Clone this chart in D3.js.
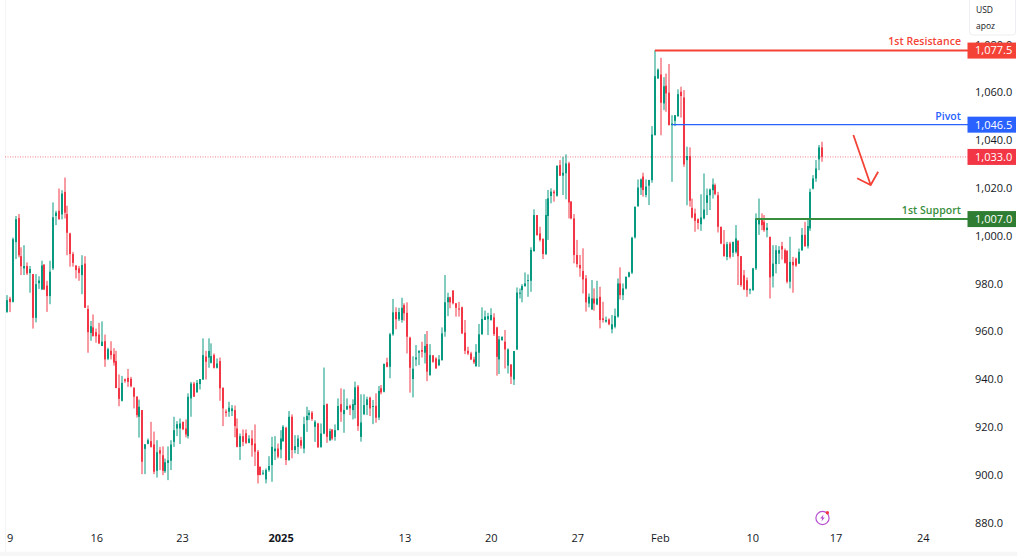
<![CDATA[<!DOCTYPE html>
<html><head><meta charset="utf-8">
<script src="https://cdn.jsdelivr.net/npm/d3@7/dist/d3.min.js"></script>
<style>html,body{margin:0;padding:0;background:#fff}svg{display:block}
text{font-family:"Open Sans","Noto Sans",sans-serif}</style></head><body>
<svg id="c" width="1017" height="556"></svg>
<script>
const opens=[967.8,973.3,972,997,1007,991.1,986,987,984,983.6,965.3,979.8,977.2,987.5,978.8,974.4,986,1007.9,1010.1,1008.6,1018,1008.7,1000.6,992,987.2,986,983.2,988,969,959,961.3,959.3,958.3,953.5,955.5,948.2,951.5,950.1,947.2,935.9,930.6,939.6,940.2,939.8,935.9,932.3,923.9,926.7,910.5,912.6,913.7,912.3,901.3,909.9,907.8,901.1,904.6,
905.5,913.4,919,919,921.8,919,915.8,931.6,937.8,934.1,937.6,939.5,949.1,948.7,946.5,949.7,944.4,947.2,936,926.1,926,926.3,926.7,919,911.3,915.8,917,913,914.8,912.7,909.3,903,900.2,897.7,901.6,903.7,909.5,910.6,910.2,913.7,919.3,905.8,923.9,910,911.3,914.1,910.6,922.5,924.6,925.6,919.7,921.1,911.3,916.9,929.2,914.1,918.6,915.5,918.3,
929.2,925,927,928.5,926.7,928.8,936.5,915.5,925,928.8,931.9,928,928.5,923.6,935.8,934.4,946.7,
944.8,958.4,967.7,964.7,964.4,970.6,967.4,957,939.7,947.9,950.7,951.8,950.7,954.3,941.4,949.6,948.3,945.5,947.6,959.5,971.8,973.9,976.7,971.4,969.2,969.7,959.1,951.5,950.4,947.9,945.1,950.7,958.5,964.4,964.7,964.4,965.5,961.3,947.9,956,955.3,945.3,945.8,939.5,952.1,
975.5,976.9,978.6,980.8,980.8,993.2,1008.3,1000.6,998.3,992,1007.9,1016.3,1018.1,1016.4,1029.2,1024.8,1025.8,1029.9,1013.9,1006.9,991.6,987.4,984.9,981.8,971.3,968.8,973.4,970.9,974.1,965.1,963.7,964.6,960.5,961.6,965.8,979.7,974.8,977.6,982.5,984.2,999,1012,1019.8,1024.4,1016.7,1020.6,1022.9,
1041.7,1065.5,1067.1,1055,1062.4,1059.5,1045.9,1047.7,1049.7,1059.9,1057.5,1031.3,1033,1011.3,1009,1006.6,1004.5,1006.9,1013.4,1016.6,1018.7,1020.8,1016.6,1003.4,996.1,990.8,996.4,992.5,992.9,997.5,991.1,983.1,981,976.9,976.9,986,1004.4,1006.2,1005.5,1002,999.2,982.7,987.8,992.2,995.3,993.6,993.3,980.4,988.7,990.1,988,993.6,1000,995.3,1002.7,1019.4,1023.6,1031.6,1036.6];
const highs=[974.8,974.1,998.9,1007.9,1008.7,994.8,995.7,988.5,987,983.6,983.6,982.7,989.2,987.8,980.8,989.2,1013.6,1010.1,1019.4,1018.7,1024,1012.2,1000.9,992.9,987.2,987,991.5,991.1,970.5,964,966.7,960.8,963.2,963.8,958.3,952.8,955.5,952.6,951.5,941.6,941,939.9,943.9,940.6,936.4,932.5,931.1,926.7,912.4,914.8,921.8,917.7,914.1,911.3,911.5,906.4,911.5,
914.1,923.9,922.1,923.2,921.8,922.8,933.7,938.5,938.5,939.3,939.7,956.7,951.5,956.7,954.6,950.4,948.3,948.7,936.2,927,930.2,928.8,928.6,923.2,916.9,918.6,918.6,916.2,918.3,920.7,910,903,901.6,902.3,907.4,915.5,915.8,912.7,918.3,920.4,919.7,926.3,924.9,916.2,916.2,915.5,923.9,928.1,926.7,926.3,922.5,921.4,921.1,944.5,929.5,919,918.7,920.7,931.6,
935.8,935.4,931.6,929,931.2,938.6,937.2,933.3,933.3,932.3,932.3,930.9,933.7,936.8,937.2,946.2,948.6,
959,973.2,969.7,969.5,973.7,971.4,971.8,957.4,949.2,953.9,951.8,955.3,958.5,959.8,954.3,949.7,948.8,949.7,961.3,983.2,975.8,974.1,976.9,971.4,972,970,964.4,953.2,951.1,949,954.3,962.7,969.7,968.3,967.4,969.3,967.2,961.6,957.7,957.4,960.2,952.5,945.8,951.4,978,
977.6,979.4,984.3,983.5,994.8,1010.7,1008.3,1003.4,998.6,1015,1018.8,1019.5,1018.8,1029.2,1031.3,1032.7,1033.7,1030.6,1014.2,1008.7,997.9,991.6,994.4,983.2,975.5,981.1,977.6,980.8,978.3,972,965.8,965.1,966.5,969.2,981.8,986.4,979.7,982.5,984.6,999.2,1011.8,1023.2,1023.6,1026,1023.2,1023,1045.5,
1077.3,1069.6,1074.1,1066,1067.5,1071.5,1050.1,1050.1,1060.9,1062,1060.6,1036.9,1036.6,1015.2,1011,1006.9,1017,1025.7,1019.4,1019.4,1023.6,1021.5,1018,1003.4,1002,997.1,997.1,997.1,1004.1,997.8,991.1,985.3,982.2,977.6,986.2,1009,1015.2,1009,1008.3,1005,999.2,995.7,995.7,995.3,997.1,994.3,993.6,999.2,990.8,990.5,994.3,1002.9,1005.5,1006.2,1019.4,1025,1031.3,1037.6,1039];
const lows=[967.4,967.7,971.7,989.9,990.6,983.2,983.2,983.2,975.8,960.8,963.4,977.4,977,976.9,967.8,971,985.3,1004.1,1006.5,1006.5,1006.9,991.5,986.7,986.7,981.8,980.8,975.2,969.5,950.7,955.7,957.6,954.9,954.3,953.5,944.8,947.6,947.9,945.3,935.9,928.3,930.3,938.1,936.4,936.2,927.4,923.6,915.2,899.9,899.9,912.4,911,899.9,898.5,901.6,899.5,900.4,897.4,
901.6,911.3,915.8,912.5,918.3,915.3,914.8,923.9,932.3,934.1,935.3,939.3,939.5,944.4,946.2,944.1,944.1,930.6,920,923.9,923.9,924.2,915.3,911.1,905.8,911.6,912.5,912.8,907.2,903.3,896,899.5,899.5,896,900.9,896.7,905.8,906.5,906.5,913.4,903.7,905.5,906.5,908.6,908.3,910.6,908.6,917.6,922.5,922.2,913.4,911,910.9,916.6,913,913.7,914.1,913.9,918.3,
921.8,917.2,926.7,924.6,922.8,923.2,918,913.5,924.6,924.6,924.2,920.8,921.4,922.5,933.3,934.1,944.6,
940,957.8,960.5,964,963.3,964.1,950.4,934,932,945.1,945.5,948.7,946.2,938.8,941,946.5,943.9,945.1,947.4,957.4,966,969.3,970.9,965.8,965.8,958.5,950.1,949.7,947.6,946,944.8,944.8,958.1,964.4,958.1,964.1,957.7,941.1,941.8,955.7,944.1,942,937.6,937.2,951.8,
973.4,971.8,978.3,974.1,976.2,993,999.7,997.2,989.9,991.6,997.9,1013.2,1013.9,1016,1024.6,1016.7,1014.9,1006.9,1006.5,988.1,986.4,982.5,975.5,967.9,969.7,968.6,968.3,970.6,960.9,963.3,963.3,962.2,958.8,960.9,965.4,973,972.7,977.2,982.2,983.6,998.5,1011.8,1016.7,1016,1015.7,1012.5,1021.8,
1041.7,1065.2,1041.7,1052.2,1051.5,1045.9,1022.2,1045.5,1049.4,1049.1,1028.5,1012.4,1011.8,1006.9,1001.3,1002.3,1001.7,1006.5,1008.3,1010.4,1015.2,1016.6,1001,996.1,990.9,989.4,990.1,990.8,992.2,979,978.3,976.9,974.1,975.2,976.6,985.3,1000,1002,1001.3,999,973.4,978,983.9,987.8,989.7,988,979.7,977.6,975.8,986.6,987.8,993.3,995,994.3,1001.7,1019,1022.2,1027.1,1030.6];
const closes=[972.7,971.9,998.2,1006.6,991.5,986.9,987,983.9,985.7,965.3,979.4,980.9,987.2,977.2,974.4,984.6,1007.4,1009.3,1006.5,1017.3,1009.3,1000.9,992,988.3,985.3,984.1,987.4,969.5,959.3,961.8,957.6,957.6,954.6,955.3,947.9,952.2,949.7,946.6,935.9,931.4,938.1,938.9,938.5,936.7,932.3,924.6,928.1,905.1,912.4,914.1,911.3,900.9,909.1,908.5,901.3,904.9,905.7,
912.3,918.3,920.8,921.1,918.7,916.5,932.3,937.8,932.3,938.1,939.7,949.7,946.9,951.4,949.3,944.4,946.2,935.8,927.4,925.5,927.7,927.4,920,911.3,915.8,913.4,913,914.8,912,909.3,899.5,899.5,900.5,901.6,903.3,911.3,910.6,907.2,914.8,919.7,905.8,923.9,910,911.6,914.8,911.8,920.8,924.2,925.6,923,921.8,911.1,916.9,928.8,915.5,917.9,914.8,918.3,928.4,
926,926.7,928.4,927.4,929.2,936.2,920,921.5,928.8,931.2,927.4,928.4,923.5,934.7,934.1,946,944.8,
958.4,967.6,964.7,967.7,969.5,967.2,957.4,944.4,944,948.7,951.4,951.1,953.5,942.8,949.7,946.9,944.2,947.9,958.8,971.8,973.9,971.8,971.4,969.5,968.8,958.8,951.5,950.4,947.9,946.7,951.1,958.4,964.8,965.8,966,966.5,958.5,949,956.3,957.4,952.1,952.1,940.7,951.4,975.9,
975.8,978.6,979.7,981.1,993.7,1008.3,999.9,997.9,992,1008.3,1015.3,1018.1,1017.4,1028.8,1024.8,1026,1029.9,1013.6,1006.9,991.6,987.8,986,981.4,971.8,974.1,973.4,971.3,973.4,964.4,964.4,964.4,962.6,962.6,966.1,979.7,974.8,977.6,982.5,984.3,998.8,1011.8,1019.8,1023.2,1018.8,1020.2,1023,1042,
1066.4,1069.2,1055.3,1062.2,1059.2,1045.9,1046.6,1050.1,1058.9,1058.1,1029.5,1033,1014.3,1007.3,1005.9,1005,1007.3,1010.6,1016.6,1019,1021.1,1017.1,1003.4,996.4,991.1,996.1,990.8,997.1,998.5,991.1,979,977.2,976.9,977.2,986,1006.9,1006.2,1004.1,1002,1003,982.2,988,993.6,993.6,993.9,988.3,980.4,988.7,987.3,987.2,992.9,1000,995.3,1003.7,1018,1023.6,1027.8,1036.6,1032.7];

const priceTicks=[880,900,920,940,960,980,1000,1020,1040,1060,1080];
const dateLabels=["9","16","23","2025","13","20","27","Feb","10","17","24"];
const dateIndex=[0.9,31,60.8,95,138,168,198,226.7,258.8,287.7,318];
const levelNames=["1st Resistance","Pivot","1st Support"];
const levelValues=[1077.5,1046.5,1007];
const levelStarts=[225,231,260];
const levelColors=["#f44336","#2962ff","#388e3c"];
const lastPrice=1033;
const arrowIdx=[293.9,299.9,295.2,302.5];
const arrowPrice=[1041.8,1020.9,1023.7,1026.4];

const UP="#089981",DOWN="#f23645",INK="#131722";
const svg=d3.select("#c");
const x=d3.scaleLinear().domain([0,283]).range([7,822]);
const y=d3.scaleLinear().domain([880,1060]).range([521.7,91.5]);
const plotR=968;
const lineShift=0.9;

svg.append("rect").attr("width",1017).attr("height",556).attr("fill","#fff");
svg.append("rect").attr("x",0).attr("y",551.7).attr("width",1017).attr("height",5).attr("fill","#f7f7f7");
svg.append("rect").attr("x",5).attr("y",0).attr("width",0.7).attr("height",552).attr("fill","#eef0f3");

// current price line
svg.append("line").attr("x1",5).attr("x2",plotR).attr("y1",y(lastPrice)+lineShift).attr("y2",y(lastPrice)+lineShift)
  .attr("stroke",DOWN).attr("stroke-opacity",.65).attr("stroke-dasharray","1 1.5");

const idx=d3.range(opens.length);
const col=i=>closes[i]>=opens[i]?UP:DOWN;
const cx=i=>Math.round(x(i));
svg.append("g").selectAll("line").data(idx).join("line")
  .attr("x1",cx).attr("x2",cx).attr("y1",i=>y(highs[i])).attr("y2",i=>y(lows[i]))
  .attr("stroke",col).attr("stroke-width",1);
svg.append("g").selectAll("rect").data(idx).join("rect")
  .attr("x",i=>cx(i)-1).attr("width",2)
  .attr("y",i=>y(Math.max(opens[i],closes[i])))
  .attr("height",i=>Math.max(1,Math.abs(y(opens[i])-y(closes[i]))))
  .attr("fill",col);

// level lines
const lv=svg.append("g");
levelValues.forEach((v,k)=>{
  lv.append("line").attr("x1",x(levelStarts[k])).attr("x2",plotR)
    .attr("y1",y(v)+lineShift).attr("y2",y(v)+lineShift)
    .attr("stroke",levelColors[k]).attr("stroke-width",k===1?1.3:2);
  lv.append("text").attr("x",961).attr("y",y(v)-4.2).attr("text-anchor","end")
    .attr("font-size",10.5).attr("font-weight",600).attr("letter-spacing",.05)
    .attr("fill",levelColors[k]).text(levelNames[k]);
});

// arrow
const ap=k=>[x(arrowIdx[k]),y(arrowPrice[k])];
svg.append("path").attr("fill","none").attr("stroke","#f44336").attr("stroke-width",1.8)
  .attr("d",d3.line()([ap(0),ap(1)])+d3.line()([ap(2),ap(1),ap(3)]));

// y axis
const ya=svg.append("g").attr("transform","translate(975,0.9)")
  .call(d3.axisRight(y).tickValues(priceTicks).tickSize(0).tickPadding(0).tickFormat(d3.format(",.1f")));
ya.select(".domain").remove();
ya.selectAll("text").attr("font-size",11).attr("fill",INK).style("font-family",'"Open Sans",sans-serif');

// x axis
const xa=svg.append("g").attr("transform","translate(0,534)")
  .call(d3.axisBottom(x).tickValues(dateIndex).tickSize(0).tickPadding(0).tickFormat((d,i)=>dateLabels[i]));
xa.select(".domain").remove();
xa.selectAll("text").attr("font-size",11).attr("fill",INK).style("font-family",'"Open Sans",sans-serif')
  .attr("font-weight",(d,i)=>dateLabels[i]==="2025"?700:400);

// price tags
const tags=[[levelValues[0],levelColors[0]],[levelValues[1],levelColors[1]],[lastPrice,DOWN],[levelValues[2],"#2e7d32"]];
const tg=svg.append("g");
tags.forEach(([v,c])=>{
  const cy=y(v)+lineShift;
  tg.append("rect").attr("x",967.5).attr("y",cy-8).attr("width",48.5).attr("height",16).attr("fill",c);
  tg.append("text").attr("x",975).attr("y",cy+3.9).attr("font-size",11).attr("fill","#fff").text(d3.format(",.1f")(v));
});

// currency box
svg.append("rect").attr("x",969.5).attr("y",-3).attr("width",46).attr("height",38).attr("rx",3)
  .attr("fill","#fff").attr("stroke","#eceef2");
svg.append("text").attr("x",976).attr("y",12.5).attr("font-size",8.5).attr("fill",INK).text("USD");
svg.append("text").attr("x",976).attr("y",29).attr("font-size",8.5).attr("fill",INK).text("apoz");

// logo
const lg=svg.append("g").attr("transform","translate(822.5,518)");
lg.append("circle").attr("r",6.6).attr("fill","#fff").attr("stroke","#b84fd0").attr("stroke-width",1.2);
lg.append("path").attr("d","M1,-3.4 L-2.3,0.6 L-0.3,0.6 L-1,3.4 L2.3,-0.6 L0.3,-0.6 Z").attr("fill","#b84fd0");
lg.append("circle").attr("cx",4.9).attr("cy",-5.2).attr("r",1.7).attr("fill","#f23645");
</script></body></html>]]>
